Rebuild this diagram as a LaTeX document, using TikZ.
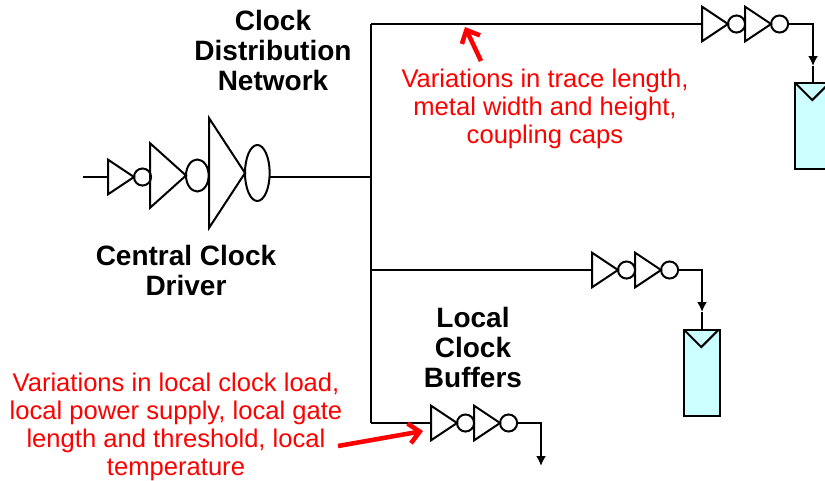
\documentclass[tikz,border=0pt]{standalone}
\usepackage{fontspec}
\setmainfont{Liberation Sans}
\usetikzlibrary{shapes.geometric,arrows,arrows.meta,positioning}
\definecolor{ffcyan}{HTML}{CCFFFF}
\tikzset
{
    wire/.style     = {line width=1.5pt},
    tipped/.style   = {wire, -{Latex[length=7.5pt,width=7.5pt]}},
    invsmall/.style = {isosceles triangle, isosceles triangle stretches, draw=black, line width=1.5pt, inner sep=0pt, outer sep=0pt, minimum height=19.5pt, minimum width=26pt, anchor=lower side},
    invmid/.style   = {invsmall, minimum height=27pt, minimum width=48.5pt},
    invbig/.style   = {invsmall, minimum height=27pt, minimum width=82.5pt},
    bubble/.style   = {circle, draw=black, line width=1.5pt, inner sep=0pt, outer sep=0pt, minimum size=12.8pt, anchor=west},
    bubblemid/.style = {ellipse, draw=black, line width=1.5pt, inner sep=0pt, outer sep=0pt, minimum width=17pt, minimum height=24pt, anchor=west},
    bubblebig/.style = {bubblemid, minimum width=18.5pt, minimum height=42pt},
    flop/.style     = {rectangle, draw=black, fill=ffcyan, line width=1.5pt, inner sep=0pt, outer sep=0pt, minimum width=26.5pt, minimum height=64.5pt, anchor=north},
    title/.style    = {align=center, font=\fontsize{21}{22.5}\selectfont\bfseries},
    note/.style     = {align=center, text=red, font=\fontsize{19.2}{21}\selectfont},
    noteptr/.style  = {red, line width=3.4pt, -{Straight Barb[length=8pt,width=15pt]}}
}
\begin{document}
\begin{tikzpicture}[x=0.75pt,y=-0.75pt]
\useasboundingbox (0,0) rectangle (825,480);
% central driver
\coordinate (in) at (83,177);
\node [invsmall] at (108,177) (d1) {};
\node [bubble] at (d1.apex) (b1) {};
\node [invmid] at (150,175.5) (d2) {};
\node [bubblemid] at (d2.apex) (b2) {};
\node [invbig] at (209,173) (d3) {};
\node [bubblebig] at (d3.apex) (b3) {};
% trunk
\coordinate (j1) at (371,177);
\coordinate (top) at (371,24);
\coordinate (mid) at (371,270);
\coordinate (low) at (371,423);
% top buffers
\node [invsmall] at (702,24) (t1) {};
\node [bubble] at (t1.apex) (tb1) {};
\node [invsmall] at (tb1.east) (t2) {};
\node [bubble] at (t2.apex) (tb2) {};
\coordinate (ttip) at (813,66);
\node [flop] at (813,83) (ff1) {};
% middle buffers
\node [invsmall] at (592,270) (m1) {};
\node [bubble] at (m1.apex) (mb1) {};
\node [invsmall] at (mb1.east) (m2) {};
\node [bubble] at (m2.apex) (mb2) {};
\coordinate (mtip) at (702,312);
\node [flop] at (702,330) (ff2) {};
% low buffers
\node [invsmall] at (431,423) (l1) {};
\node [bubble] at (l1.apex) (lb1) {};
\node [invsmall] at (lb1.east) (l2) {};
\node [bubble] at (l2.apex) (lb2) {};
\coordinate (ltip) at (541,466);
% wires
\draw [wire] (in) -- (d1.lower side);
\draw [wire] (b3.east |- j1) -- (j1);
\draw [wire] (top) -- (low);
\draw [wire] (top) -- (t1.lower side);
\draw [wire] (mid) -- (m1.lower side);
\draw [wire] (low) -- (l1.lower side);
\draw [tipped] (tb2.east) -| (ttip);
\draw [wire] (ttip) -- (ff1.north);
\draw [tipped] (mb2.east) -| (mtip);
\draw [wire] (mtip) -- (ff2.north);
\draw [tipped] (lb2.east) -| (ltip);
% flop clock marks
\draw [wire] (ff1.north west) -- ++(17,17) -- ++(17,-17);
\draw [wire] (ff2.north west) -- ++(17,17) -- ++(17,-17);
% labels
\node [title] at (273,50) (clocknet) {Clock\\Distribution\\Network};
\node [title] at (186,270.5) (driver) {Central Clock\\Driver};
\node [title] at (473,347.5) (buffers) {Local\\Clock\\Buffers};
\node [note] at (545,108.5) (tracenote) {Variations in trace length,\\metal width and height,\\coupling caps};
\node [note] at (176,427) (localnote) {Variations in local clock load,\\local power supply, local gate\\length and threshold, local\\temperature};
% pointers
\coordinate (tracefrom) at (481,61);
\coordinate (traceto) at (465,27);
\coordinate (localfrom) at (338,446);
\coordinate (localto) at (423,431);
\draw [noteptr] (tracefrom) -- (traceto);
\draw [noteptr] (localfrom) -- (localto);
\end{tikzpicture}
\end{document}
